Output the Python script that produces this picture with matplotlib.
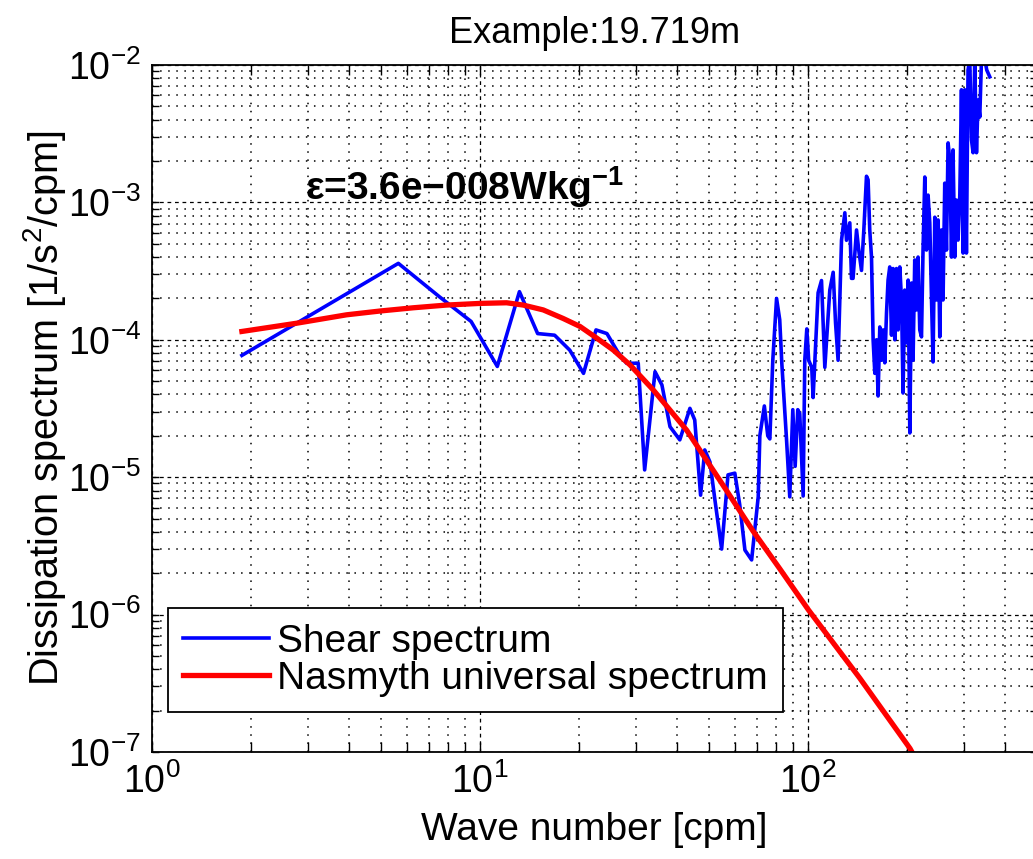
import matplotlib
matplotlib.use('Agg')
import matplotlib.pyplot as plt
from matplotlib.ticker import LogLocator, NullFormatter

plt.rcParams['font.family'] = ['Liberation Sans', 'DejaVu Sans']
plt.rcParams['mathtext.fontset'] = 'custom'
plt.rcParams['mathtext.rm'] = 'Liberation Sans'
plt.rcParams['mathtext.it'] = 'Liberation Sans:italic'
plt.rcParams['mathtext.bf'] = 'Liberation Sans:bold'

# shear spectrum
k_shear = [1.88, 5.64, 7.52, 9.40, 11.3, 13.2, 15.0, 16.9, 18.8, 20.7,
           22.6, 24.4, 26.3, 28.0, 30.4, 31.8, 34.2, 35.9, 38.0, 40.7,
           43.7, 45.2, 47.1, 48.5, 50.3, 52.1, 54.6, 57.1, 59.9, 62.0,
           64.3, 67.4, 68.9, 70.6, 71.4, 73.7, 75.5, 76.6, 78.2, 80.3,
           82.1, 83.3, 86.1, 88.1, 90.0, 91.5, 93.2, 94.5, 96.8, 97.9, 99.3,
           100.6, 102.8, 103.8, 107.5, 110.1, 112.7, 116.7, 119.5, 121.5, 123.7,
           126.7, 129.7, 131.2, 134.3, 135.9, 137.4, 140.8, 143.0, 145.8, 148.2,
           151.0, 152.7, 154.5,
           156.4, 158.2, 160.1, 162.0, 163.8, 165.8, 167.8, 169.7, 171.7, 173.8,
           175.7, 177.8, 180.0, 182.0, 184.2, 186.4, 188.5, 190.8, 193.1, 195.2,
           197.5, 200.0, 202.3, 204.7, 207.2, 209.4, 211.9, 214.5, 216.9, 219.5,
           222.2, 224.6, 227.4, 230.1, 232.7, 235.5, 238.4, 241.0, 243.9, 246.9,
           249.7, 252.6, 255.6, 258.5, 261.6, 264.8, 267.8, 271.0, 274.3, 277.3,
           280.7, 284.0, 287.2, 290.7, 294.2, 297.5, 301.1, 304.6, 308.1, 311.8,
           315.6, 319.2, 322.9, 326.9, 330.5, 334.5, 338.6, 342.4, 346.5, 351.3,
           358.9]
psi_shear = [7.7e-5, 3.6e-4, 2.06e-4, 1.36e-4, 6.4e-5, 2.24e-4, 1.11e-4, 1.08e-4, 8.4e-5, 5.7e-5,
             1.18e-4, 1.11e-4, 8.2e-5, 6.75e-5, 6.75e-5, 1.13e-5, 5.86e-5, 4.69e-5, 2.33e-5, 1.87e-5,
             3.17e-5, 2.61e-5, 7.4e-6, 1.58e-5, 1.29e-5, 6.8e-6, 3.0e-6, 1.04e-5, 1.07e-5, 6.3e-6,
             2.95e-6, 2.5e-6, 4.1e-6, 7.2e-6, 2.0e-5, 3.3e-5, 2.0e-5, 1.9e-5, 7.1e-5, 2.0e-4,
             1.4e-4, 6.8e-5, 1.9e-5, 7.2e-6, 3.1e-5, 1.2e-5, 3.1e-5, 2.9e-5, 7.3e-6, 7.1e-5, 1.2e-4,
             7.1e-5, 6.3e-5, 3.8e-5, 2.2e-4, 2.7e-4, 6.3e-5, 2.3e-4, 3.1e-4, 1.33e-4, 7.1e-5,
             5.3e-4, 8.4e-4, 5.3e-4, 7.1e-4, 2.8e-4, 2.8e-4, 6.3e-4, 4.5e-4, 3.2e-4, 6.3e-4,
             1.55e-3, 1.46e-3, 6.3e-4,
             4.0e-4, 1.0e-4, 5.7e-5, 1.0e-4, 3.9e-5, 1.24e-4, 7.1e-5, 1.18e-4, 6.8e-5, 1.57e-4,
             2.72e-4, 3.39e-4, 1.08e-4, 3.3e-4, 1.0e-4, 3.3e-4, 1.18e-4, 3.39e-4, 1.95e-4, 4.1e-5,
             2.3e-4, 9.5e-5, 2.72e-4, 2.1e-5, 2.59e-4, 7.1e-5, 3.81e-4, 1.65e-4, 4.0e-4, 1.18e-4,
             1.05e-4, 4.5e-4, 1.53e-3, 4.5e-4, 1.13e-3, 7.1e-4, 1.95e-4, 6.9e-5, 7.8e-4, 1.95e-4,
             7.45e-4, 1.05e-4, 6.3e-4, 1.95e-4, 1.38e-3, 4.5e-4, 2.71e-3, 2.04e-3, 4.0e-4, 2.41e-3,
             4.0e-4, 1.04e-3, 5.32e-4, 1.09e-3, 6.6e-3, 4.28e-4, 6.6e-3, 4.28e-4, 9.2e-3, 1.1e-2,
             2.85e-3, 2.3e-3, 1.1e-2, 2.3e-3, 5.56e-3, 4.18e-3, 1.1e-2, 1.1e-2, 1.1e-2, 9.2e-3,
             8.2e-3]

# Nasmyth universal spectrum
k_nasmyth = [1.88, 2.76, 3.92, 4.96, 6.26, 7.91, 10.0, 12.06, 13.55, 15.6,
             17.94, 20.2, 22.7, 25.5, 28.7, 33.8, 42.7, 53.9, 68.1, 82.2,
             100.5, 144.0, 205.0, 215.0]
psi_nasmyth = [1.15e-4, 1.32e-4, 1.52e-4, 1.62e-4, 1.71e-4, 1.79e-4, 1.84e-4, 1.86e-4, 1.79e-4, 1.65e-4,
               1.43e-4, 1.25e-4, 1.03e-4, 8.43e-5, 6.56e-5, 4.31e-5, 2.2e-5, 9.5e-6, 4.05e-6, 2.15e-6,
               1.08e-6, 3.45e-7, 1.06e-7, 8.6e-8]

fs = 27

fig = plt.figure(figsize=(10.33, 8.59), dpi=100)
ax = fig.add_axes([152/1033, 107/859, 885/1033, 687/859])

ax.plot(k_shear, psi_shear, color='#0000ff', lw=2.6, label='Shear spectrum')
ax.plot(k_nasmyth, psi_nasmyth, color='#ff0000', lw=3.8, label='Nasmyth universal spectrum')

ax.set_xscale('log')
ax.set_yscale('log')
ax.set_xlim(1, 500)
ax.set_ylim(1e-7, 1e-2)

ax.xaxis.set_major_locator(LogLocator(base=10, numticks=10))
ax.xaxis.set_minor_locator(LogLocator(base=10, subs=range(2, 10), numticks=20))
ax.yaxis.set_major_locator(LogLocator(base=10, numticks=10))
ax.yaxis.set_minor_locator(LogLocator(base=10, subs=range(2, 10), numticks=20))
ax.xaxis.set_minor_formatter(NullFormatter())
ax.yaxis.set_minor_formatter(NullFormatter())

ax.grid(True, which='major', color='k', ls=(0, (3, 3)), lw=0.9)
ax.grid(True, which='minor', color='k', ls=(0, (1, 4.3)), lw=1.1)

ax.tick_params(axis='both', which='both', direction='in', top=True, right=True,
               labelsize=fs, width=1.0)
ax.tick_params(axis='x', which='both', length=7, pad=8)
ax.tick_params(axis='y', which='both', length=5, pad=8)
for s in ax.spines.values():
    s.set_linewidth(1.3)

ax.set_xlabel('Wave number [cpm]', fontsize=28, labelpad=8)
ax.set_ylabel('Dissipation spectrum [1/s$^2$/cpm]', fontsize=28.5, labelpad=0)
ax.set_title('Example:19.719m', fontsize=26, pad=16)

ax.text(2.93, 1.04e-3, '\u03b5=3.6e\u2212008Wkg$^{\\mathbf{-1}}$', fontsize=28,
        fontweight='bold', va='baseline', ha='left')

leg = ax.legend(loc='lower left', bbox_to_anchor=(0.018, 0.058), fontsize=28,
                frameon=True, fancybox=False, edgecolor='k', framealpha=1,
                handlelength=2.2, handletextpad=0.2, borderpad=0.4,
                labelspacing=0.02, borderaxespad=0)
leg.get_frame().set_linewidth(1.3)

fig.savefig('out.png', dpi=100)
